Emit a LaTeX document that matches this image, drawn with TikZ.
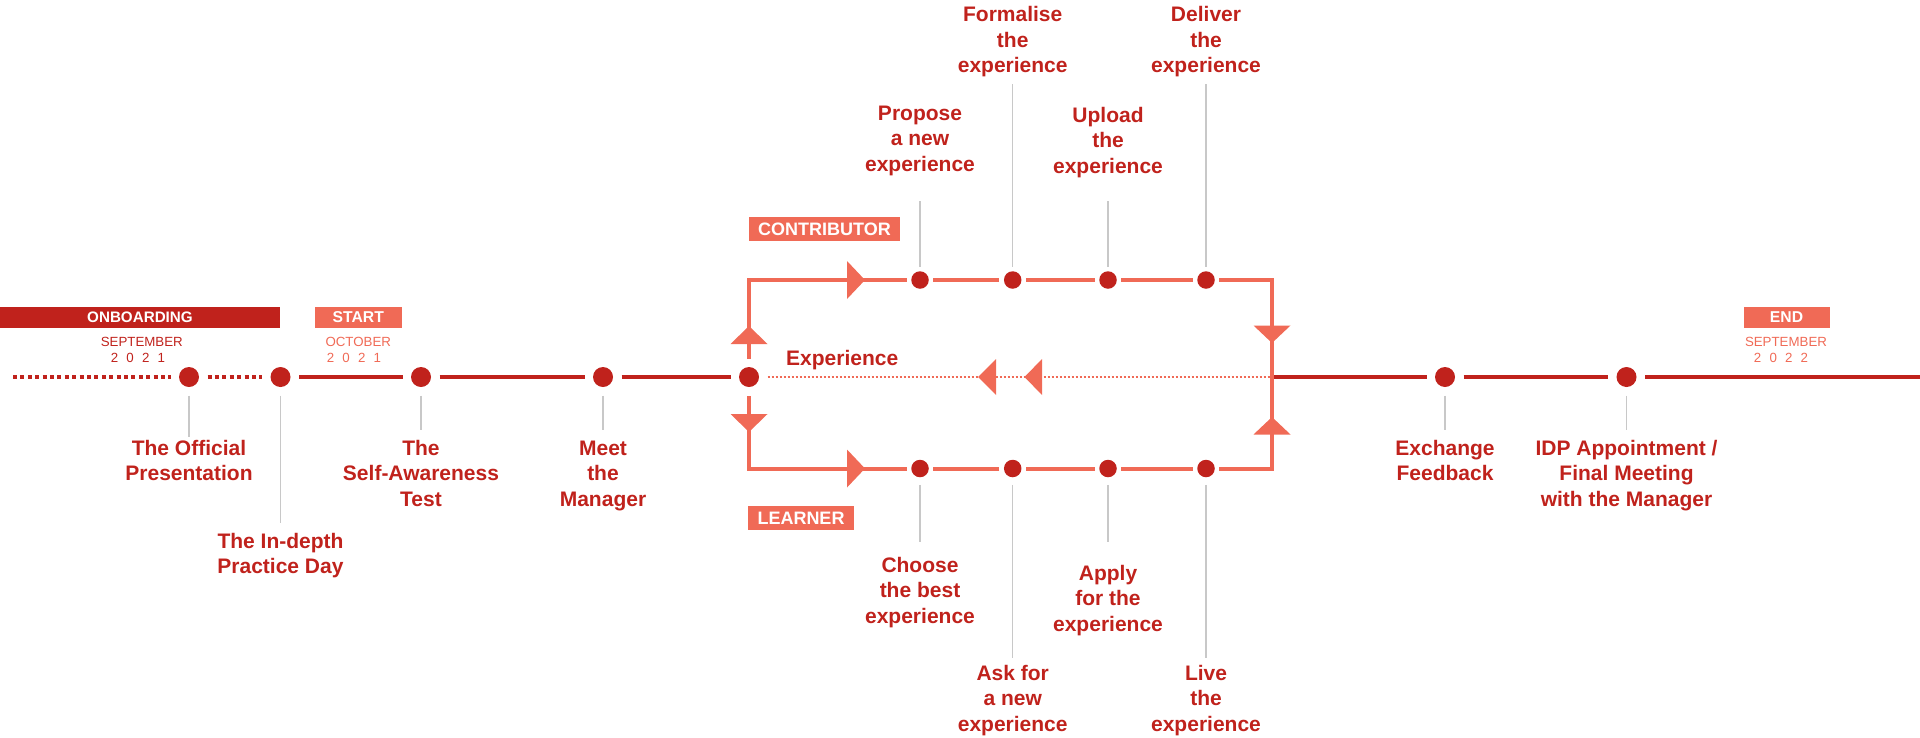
\documentclass[tikz,border=0pt]{standalone}
\usepackage{fontspec}
\setmainfont{Liberation Sans}
\definecolor{dred}{RGB}{192,34,28}
\definecolor{salm}{RGB}{240,106,86}
\definecolor{lgray}{RGB}{200,200,200}
\newcommand{\yrsp}{\hspace*{8.2pt}}
\begin{document}
\begin{tikzpicture}[x=1pt,y=-1pt,
  mdot/.style={circle,fill=dred,minimum size=20pt,inner sep=0pt,outer sep=8.5pt},
  ldot/.style={circle,fill=dred,minimum size=17.5pt,inner sep=0pt,outer sep=4.5pt},
  mainline/.style={draw=dred,line width=4pt},
  dotline/.style={draw=dred,line width=4pt,dash pattern=on 4pt off 3.4pt},
  loopline/.style={draw=salm,line width=4pt,line join=miter},
  expline/.style={draw=salm,line width=2pt,dash pattern=on 2pt off 2pt},
  leader/.style={draw=lgray,line width=1.3pt},
  lbl/.style={font=\bfseries\fontsize{21pt}{25.5pt}\selectfont,text=dred,align=center,inner sep=0pt,anchor=base},
  datetxt/.style={font=\fontsize{13.3pt}{16pt}\selectfont,inner sep=0pt,anchor=base},
  tagbox/.style={text=white,inner sep=0pt,minimum height=21pt},
  headfill/.style={fill=salm}
]
\useasboundingbox (0,0) rectangle (1920,737);

% ---------- tags and dates ----------
\node[tagbox,fill=dred,minimum width=280pt,font=\bfseries\fontsize{15.2pt}{18pt}\selectfont] (onb) at (140,317.2) {ONBOARDING};
\node[tagbox,fill=salm,minimum width=86.7pt,font=\bfseries\fontsize{15.7pt}{18pt}\selectfont] (start) at (358.3,317.2) {START};
\node[tagbox,fill=salm,minimum width=86pt,font=\bfseries\fontsize{15.7pt}{18pt}\selectfont] (end) at (1786.5,317.3) {END};
\node[tagbox,fill=salm,minimum width=151pt,minimum height=24pt,font=\bfseries\fontsize{18pt}{20pt}\selectfont] (contrib) at (824.5,229) {CONTRIBUTOR};
\node[tagbox,fill=salm,minimum width=106pt,minimum height=24pt,font=\bfseries\fontsize{18pt}{20pt}\selectfont] (learner) at (801,518) {LEARNER};

\node[datetxt,text=dred] (sep1) at (141.8,346.7) {SEPTEMBER};
\node[datetxt,text=dred] (yr1) at (138,362.3) {2\yrsp 0\yrsp 2\yrsp 1};
\node[datetxt,text=salm] (oct) at (358.3,346.7) {OCTOBER};
\node[datetxt,text=salm] (yr2) at (354,362.3) {2\yrsp 0\yrsp 2\yrsp 1};
\node[datetxt,text=salm] (sep2) at (1786,346.7) {SEPTEMBER};
\node[datetxt,text=salm] (yr3) at (1781,362.3) {2\yrsp 0\yrsp 2\yrsp 2};

% ---------- coordinates ----------
\coordinate (startL) at (13,377);
\coordinate (endR) at (1920,377);
\coordinate (jr) at (1272,377);
\coordinate (tl) at (749,280);
\coordinate (tr) at (1272,280);
\coordinate (bl) at (749,468.5);
\coordinate (br) at (1272,468.5);

% ---------- dots ----------
\node[mdot] (d1) at (189,377) {};
\node[mdot] (d2) at (280.5,377) {};
\node[mdot] (d3) at (421,377) {};
\node[mdot] (d4) at (603,377) {};
\node[mdot] (L) at (749,377) {};
\node[mdot] (e1) at (1445,377) {};
\node[mdot] (e2) at (1626.5,377) {};
\node[ldot] (t1) at (920,280) {};
\node[ldot] (t2) at (1012.7,280) {};
\node[ldot] (t3) at (1108,280) {};
\node[ldot] (t4) at (1206,280) {};
\node[ldot] (b1) at (920,468.5) {};
\node[ldot] (b2) at (1012.7,468.5) {};
\node[ldot] (b3) at (1108,468.5) {};
\node[ldot] (b4) at (1206,468.5) {};

% ---------- main line ----------
\draw[dotline] (startL) -- (d1);
\draw[dotline] (d1) -- (d2);
\draw[mainline] (d2) -- (d3);
\draw[mainline] (d3) -- (d4);
\draw[mainline] (d4) -- (L);
\draw[mainline] (jr) -- (e1);
\draw[mainline] (e1) -- (e2);
\draw[mainline] (e2) -- (endR);

% ---------- loop ----------
\draw[expline] (L) -- (jr);
\draw[loopline] (L) -- (tl) -- (t1);
\draw[loopline] (t1) -- (t2);
\draw[loopline] (t2) -- (t3);
\draw[loopline] (t3) -- (t4);
\draw[loopline] (t4) -- (tr) -- (br) -- (b4);
\draw[loopline] (b4) -- (b3);
\draw[loopline] (b3) -- (b2);
\draw[loopline] (b2) -- (b1);
\draw[loopline] (b1) -- (bl) -- (L);

% arrowheads
\fill[headfill] (847,261) -- (865,280) -- (847,299) -- cycle;
\fill[headfill] (847,449.5) -- (865,468.5) -- (847,487.5) -- cycle;
\fill[headfill] (730.5,344) -- (749,326) -- (767.5,344) -- cycle;
\fill[headfill] (730.5,414) -- (749,432) -- (767.5,414) -- cycle;
\fill[headfill] (1253.5,325.5) -- (1272,343) -- (1290.5,325.5) -- cycle;
\fill[headfill] (1253.5,434.5) -- (1272,417) -- (1290.5,434.5) -- cycle;
\fill[headfill] (996,359) -- (978,377) -- (996,395) -- cycle;
\fill[headfill] (1042,359) -- (1024.5,377) -- (1042,395) -- cycle;

% ---------- leaders ----------
\draw[leader] (d1.south) -- ++(0,41);
\draw[leader] (d2.south) -- ++(0,127);
\draw[leader] (d3.south) -- ++(0,34);
\draw[leader] (d4.south) -- ++(0,34);
\draw[leader] (e1.south) -- ++(0,34);
\draw[leader] (e2.south) -- ++(0,34);
\draw[leader] (t1.north) -- ++(0,-66);
\draw[leader] (t2.north) -- ++(0,-183);
\draw[leader] (t3.north) -- ++(0,-66);
\draw[leader] (t4.north) -- ++(0,-183);
\draw[leader] ([yshift=-3pt]b1.south) -- ++(0,57);
\draw[leader] ([yshift=-3pt]b2.south) -- ++(0,173);
\draw[leader] ([yshift=-3pt]b3.south) -- ++(0,57);
\draw[leader] ([yshift=-3pt]b4.south) -- ++(0,173);

% ---------- labels (anchor = baseline of last line) ----------
\node[lbl] (l1) at (189,480.5) {The Official\\Presentation};
\node[lbl] (l2) at (280.5,573.5) {The In-depth\\Practice Day};
\node[lbl] (l3) at (421,506) {The\\Self-Awareness\\Test};
\node[lbl] (l4) at (603,506) {Meet\\the\\Manager};
\node[lbl] (l5) at (1445,480.5) {Exchange\\Feedback};
\node[lbl] (l6) at (1626.5,506) {IDP Appointment /\\Final Meeting\\with the Manager};
\node[lbl] (lt1) at (920,171) {Propose\\a new\\experience};
\node[lbl] (lt2) at (1012.7,72.7) {Formalise\\the\\experience};
\node[lbl] (lt3) at (1108,173.3) {Upload\\the\\experience};
\node[lbl] (lt4) at (1206,72.7) {Deliver\\the\\experience};
\node[lbl] (lb1) at (920,623.3) {Choose\\the best\\experience};
\node[lbl] (lb2) at (1012.7,731) {Ask for\\a new\\experience};
\node[lbl] (lb3) at (1108,631) {Apply\\for the\\experience};
\node[lbl] (lb4) at (1206,731) {Live\\the\\experience};
\node[lbl,anchor=base west] (exp) at (786,365) {Experience};
\end{tikzpicture}
\end{document}
